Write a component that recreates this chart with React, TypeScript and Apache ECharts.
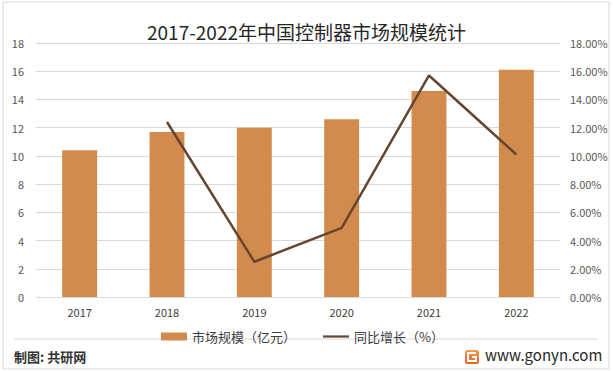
import React, { useEffect, useRef } from "react";
import * as echarts from "echarts";

const categories = ["2017", "2018", "2019", "2020", "2021", "2022"];
const marketSize = [10.4, 11.7, 12.0, 12.6, 14.6, 16.1];
const growth = [null, 12.4, 2.5, 4.9, 15.7, 10.1];
const titleText = "2017-2022年中国控制器市场规模统计";
const barName = "市场规模（亿元）";
const lineName = "同比增长（%）";

export default function App() {
  const ref = useRef<HTMLDivElement>(null);
  useEffect(() => {
    if (!ref.current) return;
    const chart = echarts.init(ref.current, null, { renderer: "svg" });
    const font = "'Microsoft YaHei', 'Noto Sans CJK SC', sans-serif";
    chart.setOption({
      animation: false,
      backgroundColor: "#ffffff",
      textStyle: { fontFamily: font },
      title: {
        text: titleText,
        left: "center",
        top: 17,
        textStyle: { fontSize: 19, fontWeight: "normal", color: "#262626", fontFamily: font },
      },
      legend: {
        top: 325,
        left: 156,
        itemGap: 27,
        itemWidth: 26,
        itemHeight: 8,
        textStyle: { fontSize: 13, color: "#404040", fontFamily: font },
        data: [
          { name: barName, icon: "rect" },
          { name: lineName, icon: "path://M0,3 L26,3 L26,5.2 L0,5.2 Z" },
        ],
      },
      grid: { left: 36, right: 53, top: 43, bottom: 74 },
      xAxis: {
        type: "category",
        data: categories,
        axisLine: { show: false },
        axisTick: { show: false },
        axisLabel: { color: "#404040", fontSize: 11, margin: 9 },
      },
      yAxis: [
        {
          type: "value",
          min: 0,
          max: 18,
          interval: 2,
          axisLine: { show: false },
          axisTick: { show: false },
          axisLabel: { color: "#595959", fontSize: 11, margin: 12 },
          splitLine: { lineStyle: { color: "#d9d9d9", width: 1 } },
        },
        {
          type: "value",
          min: 0,
          max: 18,
          interval: 2,
          axisLine: { show: false },
          axisTick: { show: false },
          axisLabel: {
            color: "#595959",
            fontSize: 11,
            margin: 10,
            formatter: (v: number) => v.toFixed(2) + "%",
          },
          splitLine: { show: false },
        },
      ],
      series: [
        {
          name: barName,
          type: "bar",
          data: marketSize,
          barWidth: "40%",
          itemStyle: { color: "#D38B4D" },
        },
        {
          name: lineName,
          type: "line",
          yAxisIndex: 1,
          data: growth,
          showSymbol: false,
          symbol: "none",
          lineStyle: { color: "#654630", width: 2.5 },
          itemStyle: { color: "#654630" },
        },
      ],
      graphic: [
        {
          type: "rect",
          shape: { x: 3, y: 2, width: 606, height: 367 },
          style: { fill: "none", stroke: "#d9d9d9", lineWidth: 1 },
          silent: true,
        },
        {
          type: "line",
          shape: { x1: 14, y1: 339, x2: 598, y2: 339 },
          style: { stroke: "#d9d9d9", lineWidth: 1 },
          silent: true,
        },
        {
          type: "text",
          left: 14,
          top: 350,
          style: { text: "制图: 共研网", fontSize: 13, fontWeight: "bold", fill: "#333333", fontFamily: font },
        },
        {
          type: "rect",
          shape: { x: 465, y: 350, width: 14, height: 14, r: 2 },
          style: {
            fill: new echarts.graphic.LinearGradient(0, 0, 0, 1, [
              { offset: 0, color: "#F59A4A" },
              { offset: 1, color: "#E8632A" },
            ]),
          },
        },
        {
          type: "polyline",
          shape: { points: [[476, 353], [468, 353], [468, 361], [476, 361], [476, 357], [472, 357]] },
          style: { stroke: "#ffffff", lineWidth: 2, fill: "none" },
        },
        {
          type: "text",
          left: 485,
          top: 347,
          style: { text: "www.gonyn.com", fontSize: 15, fill: "#262626", fontFamily: font },
        },
      ],
    });
    return () => chart.dispose();
  }, []);
  return <div ref={ref} style={{ width: 613, height: 371, position: "absolute", left: 0, top: 0 }} />;
}
